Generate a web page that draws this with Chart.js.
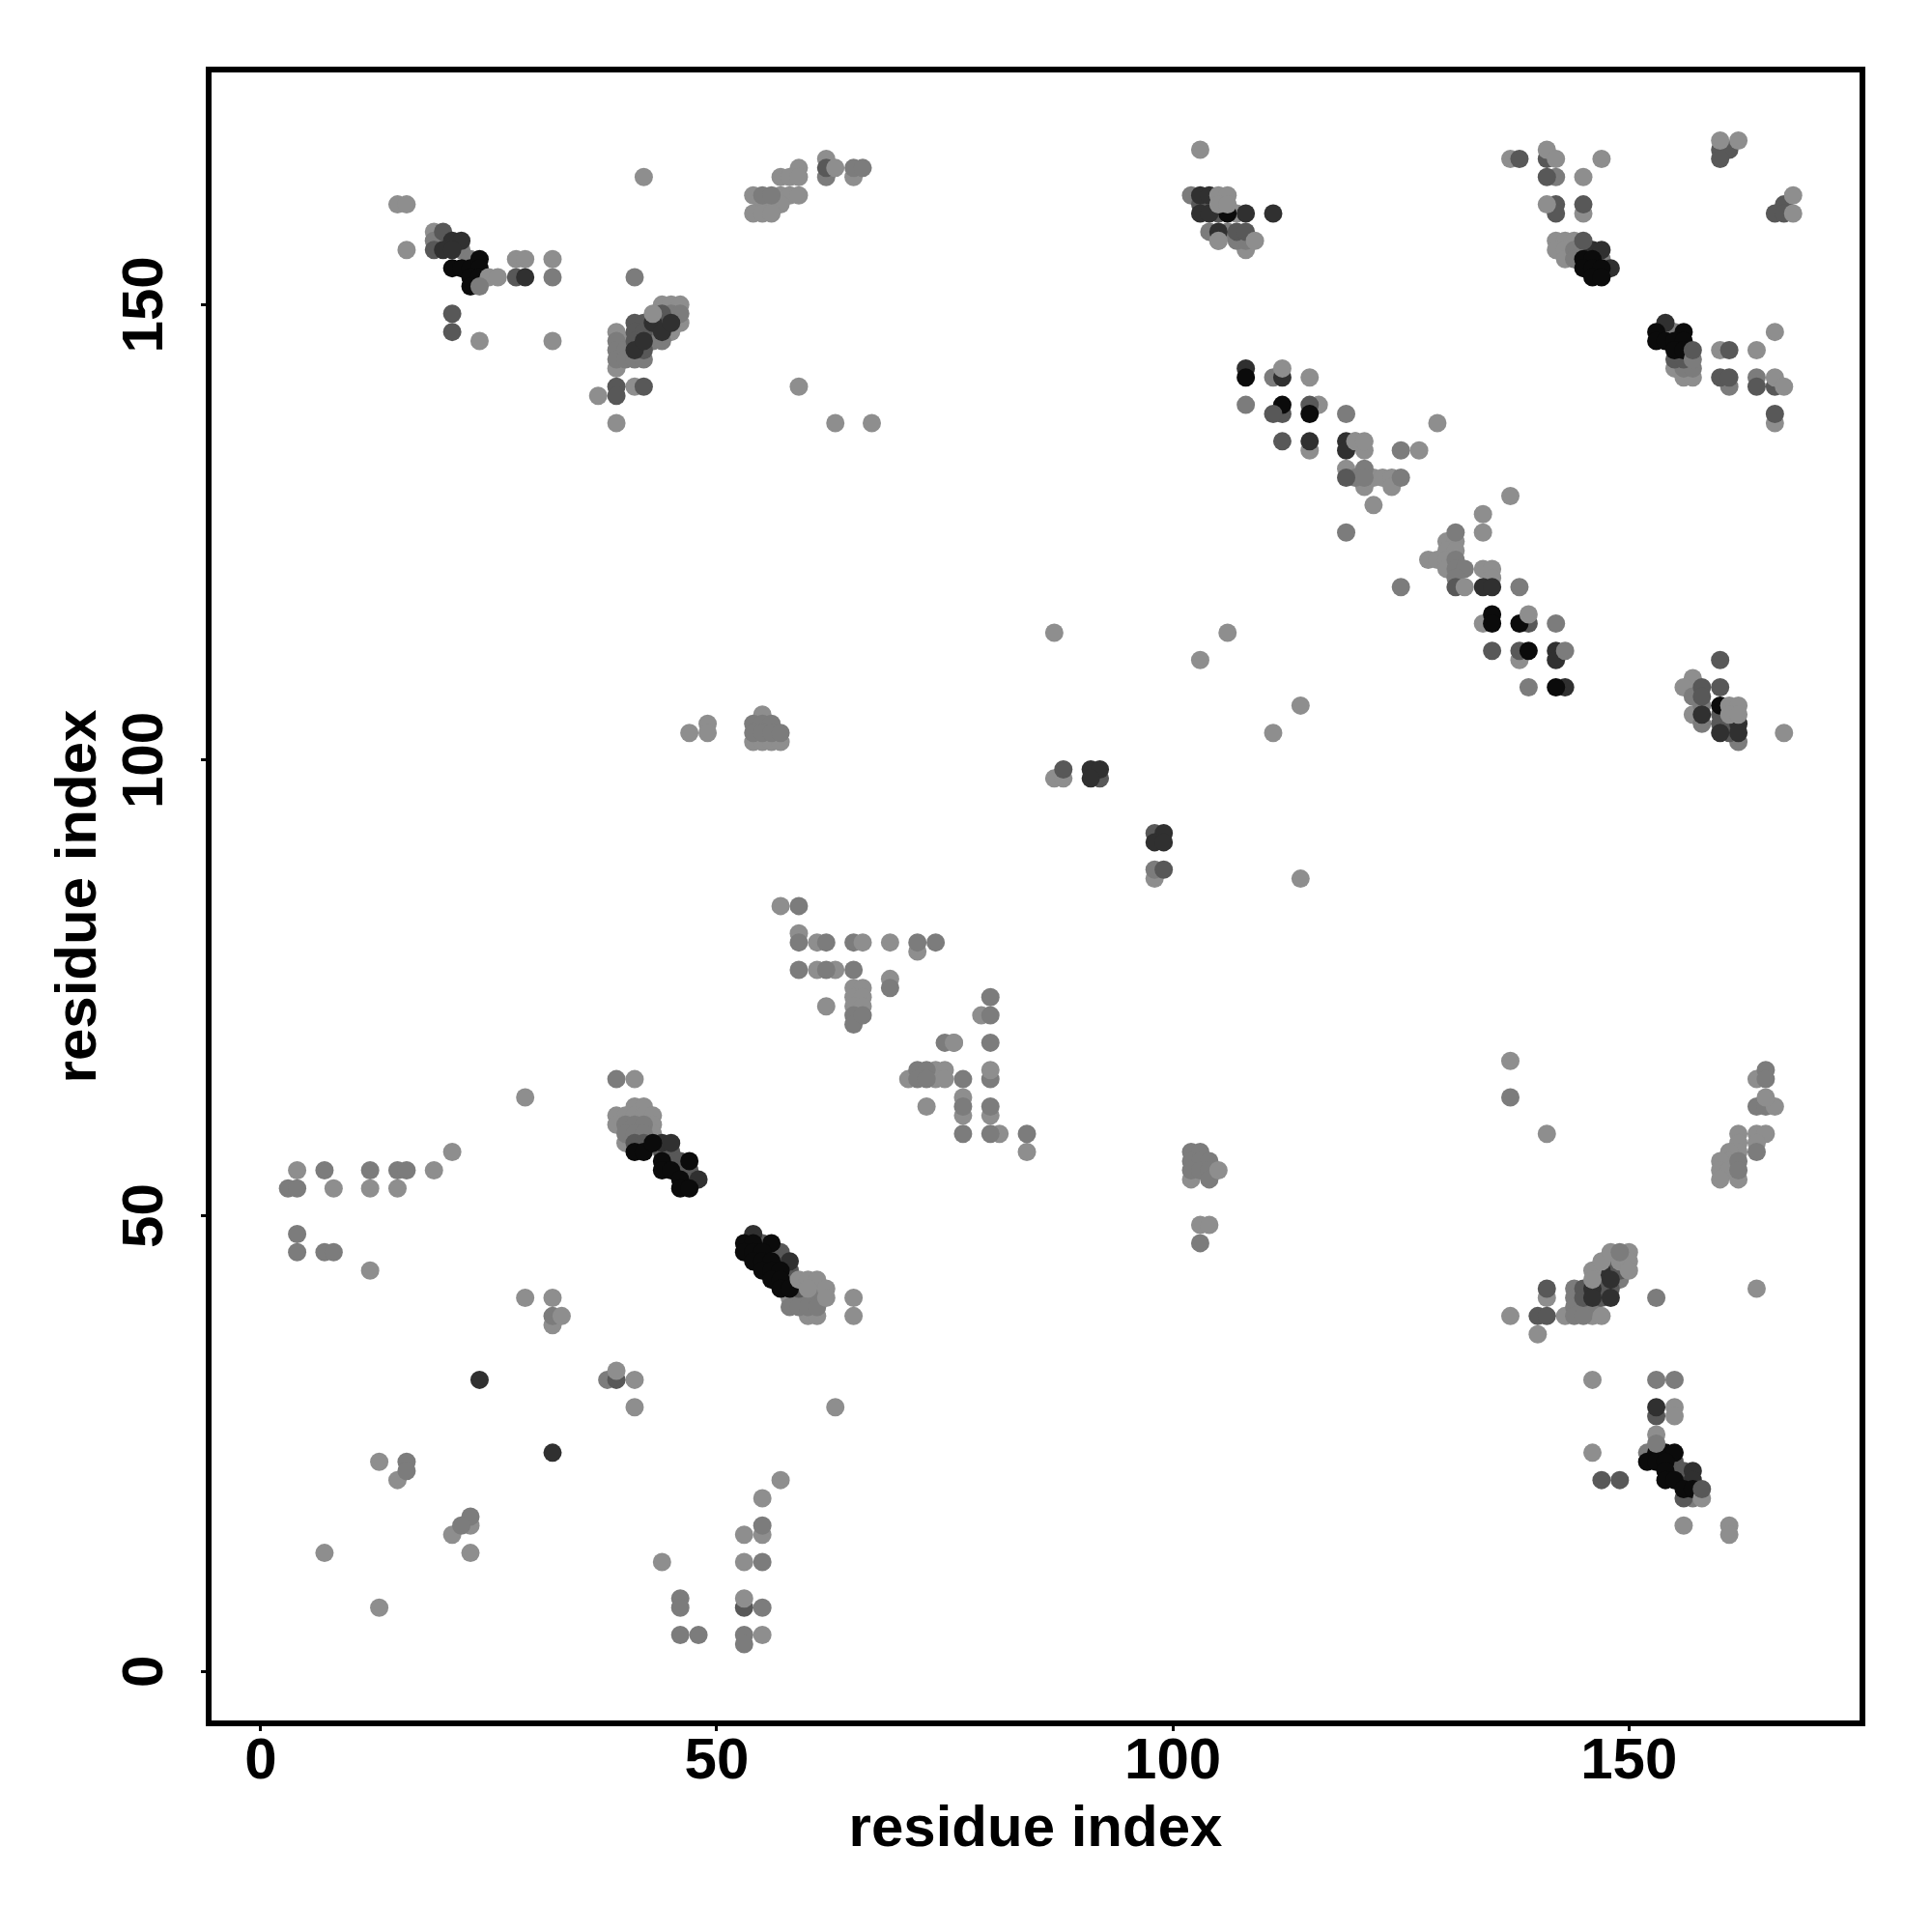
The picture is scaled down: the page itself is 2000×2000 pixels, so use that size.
<!DOCTYPE html>
<html>
<head>
<meta charset="utf-8">
<script src="https://cdn.jsdelivr.net/npm/chart.js@4/dist/chart.umd.min.js"></script>
<style>html,body{margin:0;padding:0;background:#fff}canvas{display:block}</style>
</head>
<body>
<canvas id="c" width="2000" height="2000"></canvas>
<script>
const xTickValues = [0, 50, 100, 150];
const yTickValues = [0, 50, 100, 150];
const xAxisLabel = "residue index";
const yAxisLabel = "residue index";

const lightDots = [
[15,161],[16,161],[16,156],[19,158],[28,155],[29,155],[32,155],[24,146],[32,146],[42,164],[39,147],[39,143],[39,137],[37,140],[41,141],[40,146],[44,150],[45,150],[46,150],[45,148],[45,147],[46,148],
[59,165],[57,164],[58,164],[59,164],[62,166],[65,164],[54,162],[57,162],[58,162],[59,162],[55,161],[56,161],[57,161],[54,160],[55,160],[56,160],[59,141],[63,137],[67,137],
[103,167],[107,160],[105,157],[108,156],[115,134],
[137,166],[145,164],[147,166],[145,160],[142,157],[143,157],[144,157],[142,156],[143,156],[143,155],[155,143],[156,142],[157,142],[160,145],[164,145],[166,147],[166,137],[116,139],[129,137],[120,135],[121,134],[127,134],[119,132],[122,131],[123,131],[124,131],
[122,128],[121,130],[124,130],[137,129],[134,127],[134,125],[130,124],[131,124],[130,123],[131,123],[128,122],[129,122],[130,122],[130,121],[134,121],[135,121],[135,120],
[134,115],[138,111],[157,109],[156,108],[157,105],[167,103],
[87,114],[106,114],[103,111],[114,106],[111,103],[47,103],[49,104],[49,103],[55,105],[54,102],[55,102],[56,102],[57,102],[87,98],[88,98],[98,87],[114,87],
[57,84],[59,81],[61,80],[69,80],[72,79],[61,77],[63,77],[62,73],[65,75],[66,75],[65,74],[66,74],[65,73],[66,73],[69,76],[79,72],[76,69],[71,65],[74,66],[75,66],[74,65],[75,65],[73,62],[77,63],[77,61],[80,61],[81,59],[84,57],
[102,54],[103,49],[104,49],
[65,41],[65,39],[63,29],[57,21],[55,19],[55,15],[55,4],[60,39],[61,39],[58,41],
[4,55],[19,55],[21,57],[8,53],[12,53],[15,53],[12,44],[29,63],[41,65],[29,41],[32,41],[32,38],[41,32],[41,29],[41,62],[42,62],[39,61],[40,61],[41,61],[42,61],[43,61],[39,60],[43,60],[43,59],[40,58],
[137,67],[141,59],[164,65],[162,59],[164,59],[165,59],[164,58],[162,58],[162,57],[161,57],[161,56],[160,56],[160,55],[161,55],[160,54],[162,54],[164,42],[141,41],[137,39],[140,37],[143,39],[146,39],
[146,32],[155,29],[155,28],[146,24],[156,16],[161,16],[161,15],
[13,23],[15,21],[21,15],[23,16],[23,13],[7,13],[13,7],[44,12],[53,15],[53,12]
];
const midDots = [
[19,157],[22,156],[23,155],[32,153],[41,153],[39,146],[39,145],[39,144],[40,145],[40,144],[41,144],[42,144],[43,146],[44,146],[45,149],[46,149],
[55,162],[56,162],[62,164],[65,165],[66,165],
[102,162],[104,158],[106,158],[107,157],[108,157],[108,139],[111,142],
[142,164],[144,156],[144,155],[147,155],[155,147],[156,143],[157,143],[161,141],[164,142],[119,138],[125,134],[121,132],[120,131],[121,131],[125,131],
[119,125],[131,125],[131,122],[131,121],[132,121],[131,120],[125,119],[138,119],[142,115],[139,108],[158,106],[157,107],[158,104],[162,102],
[54,104],[55,104],[56,104],[54,103],[55,103],[56,103],[57,103],[98,88],
[59,84],[59,80],[62,80],[65,80],[72,80],[74,80],[59,77],[62,77],[65,77],[65,72],[65,71],[66,72],[69,75],[80,74],[80,72],[75,69],[80,69],[72,66],[73,66],[72,65],[73,65],[77,65],[77,62],[80,62],[77,59],[80,59],[84,59],[80,65],
[102,57],[103,57],[102,56],[103,56],[104,56],[102,55],[103,55],[104,55],[104,54],[103,47],
[59,41],[60,41],[61,41],[58,40],[59,40],[60,40],[61,40],[55,16],[55,12],[55,7],
[7,55],[12,55],[15,55],[16,55],[3,53],[4,53],[4,48],[4,46],[7,46],[8,46],[39,65],[32,39],[38,32],[40,60],[41,60],[42,60],[40,59],[41,59],[42,59],
[137,63],[165,66],[165,65],[164,62],[165,62],[164,57],[162,56],[162,55],[153,41],[144,42],[144,41],[144,40],[145,40],[146,40],[144,39],[145,39],[148,45],[149,43],
[153,32],[155,32],[152,24],[157,19],[16,23],[16,22],[23,17],[22,16],[46,8],[46,7],[46,4],[48,4],[53,4],[53,3]
];
const darkDots = [
[20,158],[19,156],[21,149],[21,147],[28,153],[39,141],[39,140],[42,141],[41,148],[42,148],[41,147],[42,147],[41,146],[44,149],[44,148],[42,145],
[62,165],
[103,161],[104,161],[105,160],[107,158],[108,158],[112,138],[112,135],[115,139],
[138,166],[141,166],[141,164],[142,161],[142,160],[145,161],[160,167],[161,167],[160,166],[167,161],[166,160],[167,160],[155,144],[156,144],[161,145],[160,142],[161,142],[164,141],[166,141],[166,138],[119,131],[131,119],[161,103],
[135,112],[138,112],[139,115],[160,111],[160,108],[158,108],[158,107],[160,105],[160,104],
[88,99],[92,98],[98,92],[99,88],
[41,58],[42,58],[44,57],[45,57],[45,56],[46,56],[46,55],[47,55],[47,54],
[55,47],[56,46],[57,46],[57,45],[58,44],[58,43],[59,42],
[141,42],[140,39],[141,39],[145,42],[145,41],[147,42],[147,41],[148,44],[149,44],[147,43],[148,42],
[153,28],[155,23],[155,22],[156,22],[156,21],[156,19],[147,21],[149,21],[39,32],[53,7]
];
const deepDots = [
[21,157],[22,157],[20,156],[21,156],[29,153],[41,145],[42,146],[43,148],[44,147],[45,148],
[103,162],[104,162],[103,160],[104,160],[108,160],[111,160],[105,158],[108,143],[112,142],
[146,156],[147,156],[148,154],[154,148],[115,135],[119,135],[119,134],
[134,119],[142,112],[143,108],[142,111],[135,119],[158,105],[162,104],[162,103],[160,103],
[91,99],[92,99],[91,98],[99,92],[98,91],[99,91],
[24,32],[32,24],[44,58],[45,58],[48,54],[54,48],[58,45],
[146,42],[146,41],[148,41],[147,44],[148,43],
[153,29],[157,22],[157,21]
];
const blackDots = [
[21,154],[22,154],[23,154],[24,155],[24,154],[23,153],[24,153],[23,152],
[106,160],[108,142],[112,139],[115,138],
[145,155],[146,155],[145,154],[146,154],[147,154],[146,153],[147,153],[153,147],[156,147],[153,146],[154,146],[155,146],[156,146],[155,145],[156,145],
[135,116],[135,115],[138,115],[139,112],[142,108],[160,106],
[41,57],[42,57],[43,58],[44,56],[47,56],[44,55],[45,55],[46,54],[46,53],[47,53],
[53,47],[54,47],[56,47],[53,46],[54,46],[55,46],[54,45],[55,45],[56,45],[55,44],[56,44],[57,44],[56,43],[57,43],[57,42],[58,42],
[153,24],[154,24],[155,24],[152,23],[153,23],[154,23],[154,22],[154,21],[155,21],[156,20],[157,20]
];
const overLightDots = [
[25,153],[26,153],[43,149],[63,165],[105,162],[106,162],[105,161],[106,161],[105,157],[109,157],[112,143],[115,142],
[141,167],[142,166],[141,161],[160,168],[162,168],[168,162],[168,160],[166,142],[167,141],[120,135],[121,135],[132,119],[139,116],[161,106],[162,106],[161,105],[162,105],
[66,80],[76,69],[80,66],[105,55],[33,39],[39,33],[53,8],
[59,43],[60,43],[61,43],[62,42],[62,41],[60,42],
[147,39],[146,44],[146,43],[147,45],[148,46],[150,46],[149,45],[150,45],[150,44],
[153,26],[158,19],[166,62],[165,63]
];
const overMidDots = [
[24,152],[143,112],[149,46],[153,25],[157,144]
];
const overDarkDots = [
[157,145],[158,20],[145,157],[111,138]
];

const layers = [
  {dots: overDarkDots, shade: "#585858"},
  {dots: overMidDots, shade: "#7c7c7c"},
  {dots: overLightDots, shade: "#8e8e8e"},
  {dots: blackDots, shade: "#0b0b0b"},
  {dots: deepDots, shade: "#303030"},
  {dots: darkDots, shade: "#585858"},
  {dots: midDots, shade: "#7c7c7c"},
  {dots: lightDots, shade: "#8e8e8e"}
];

const boxFrame = {
  id: "boxFrame",
  afterDatasetsDraw(chart) {
    const a = chart.chartArea, g = chart.ctx;
    g.save();
    g.strokeStyle = "#000";
    g.lineWidth = 6;
    g.lineJoin = "miter";
    g.strokeRect(a.left, a.top, a.right - a.left, a.bottom - a.top);
    g.restore();
  }
};

const tickFont = {family: "'Liberation Sans', Arial, sans-serif", size: 60, weight: "bold"};
const titleFont = {family: "'Liberation Sans', Arial, sans-serif", size: 60, weight: "bold"};
const gridOpts = {drawOnChartArea: false, drawTicks: true, tickLength: 8, tickWidth: 3, tickColor: "#000", color: "#000"};

new Chart(document.getElementById("c"), {
  type: "scatter",
  data: {
    datasets: layers.map(l => ({
      data: l.dots.map(p => ({x: p[0], y: p[1]})),
      backgroundColor: l.shade,
      borderWidth: 0,
      pointRadius: 9.5,
      pointHoverRadius: 9.5,
      clip: false
    }))
  },
  options: {
    responsive: false,
    animation: false,
    devicePixelRatio: 1,
    events: [],
    layout: {padding: {left: 0, top: 72, right: 72, bottom: 0}},
    plugins: {legend: {display: false}, tooltip: {enabled: false}, title: {display: false}},
    scales: {
      x: {
        type: "linear", min: -5.7, max: 175.6,
        afterFit(s) { s.height = 216; },
        afterBuildTicks(s) { s.ticks = xTickValues.map(v => ({value: v})); },
        border: {display: false},
        grid: gridOpts,
        ticks: {font: tickFont, color: "#000", padding: -4, autoSkip: false, maxRotation: 0, minRotation: 0},
        title: {display: true, text: xAxisLabel, font: titleFont, color: "#000", padding: {top: 0, bottom: 70}}
      },
      y: {
        type: "linear", min: -5.7, max: 175.8,
        afterFit(s) { s.width = 216; },
        afterBuildTicks(s) { s.ticks = yTickValues.map(v => ({value: v})); },
        border: {display: false},
        grid: gridOpts,
        ticks: {font: tickFont, color: "#000", padding: 6, autoSkip: false, minRotation: 90, maxRotation: 90, crossAlign: "center"},
        title: {display: true, text: yAxisLabel, font: titleFont, color: "#000", padding: {top: 46, bottom: 0}}
      }
    }
  },
  plugins: [boxFrame]
});
</script>
</body>
</html>
